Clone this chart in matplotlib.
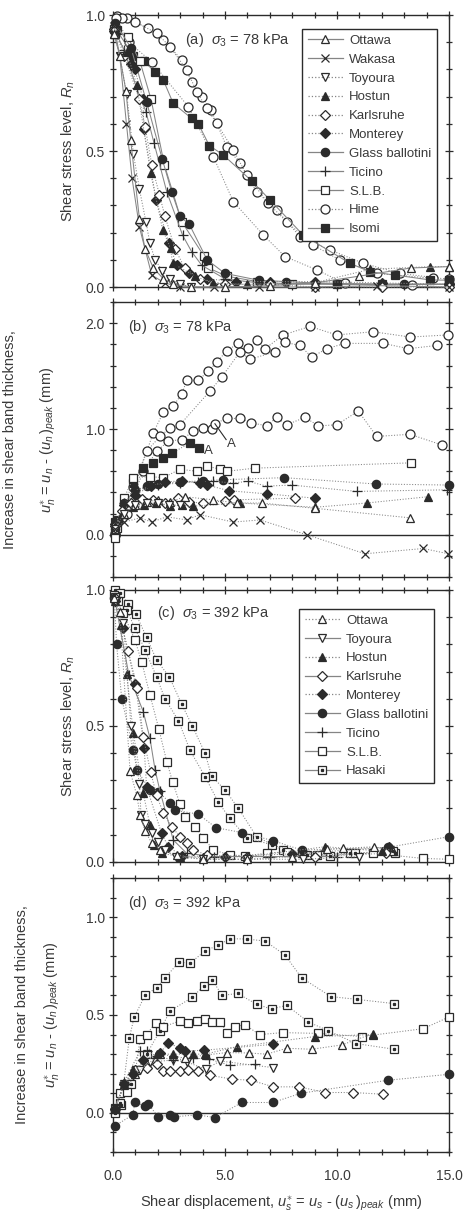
import matplotlib
matplotlib.use('Agg')
import matplotlib.pyplot as plt
from matplotlib.ticker import MultipleLocator, FixedLocator
from matplotlib.lines import Line2D
from matplotlib.legend_handler import HandlerTuple

# ---------------- Panel (a): sigma3 = 78 kPa, shear stress level ----------------
a_ottawa_x = [0.05, 0.3, 0.58, 0.79, 1.18, 1.43, 1.8, 2.25, 2.7, 3.5, 5.0, 7.0, 9.0, 11.0, 13.3, 15.0]
a_ottawa_y = [0.93, 0.85, 0.72, 0.54, 0.25, 0.14, 0.07, 0.03, 0.01, 0.0, 0.0, 0.005, 0.015, 0.04, 0.07, 0.075]
a_wakasa_x = [0.05, 0.3, 0.6, 0.85, 1.18, 1.73, 2.3, 3.0, 4.5, 6.5, 9.0, 11.8, 15.0]
a_wakasa_y = [0.96, 0.85, 0.6, 0.4, 0.22, 0.044, 0.015, 0.0, 0.0, 0.0, 0.0, 0.005, 0.0]
a_toyoura_x = [0.05, 0.3, 0.61, 0.91, 1.18, 1.47, 1.65, 1.88, 2.2, 2.54, 2.99, 3.5]
a_toyoura_y = [0.94, 0.85, 0.71, 0.49, 0.36, 0.24, 0.16, 0.10, 0.06, 0.03, 0.01, 0.0]
a_hostun_x = [0.05, 0.61, 1.06, 1.68, 2.22, 2.57, 2.66, 3.66, 4.48, 6.0, 9.02, 11.47, 14.15, 15.0]
a_hostun_y = [0.93, 0.865, 0.743, 0.418, 0.21, 0.142, 0.087, 0.04, 0.013, 0.01, 0.016, 0.065, 0.075, 0.075]
a_karlsruhe_x = [0.05, 0.5, 1.18, 1.43, 1.73, 2.07, 2.32, 2.77, 3.2, 3.88, 5.0, 7.0, 9.0, 12.0, 15.0]
a_karlsruhe_y = [0.95, 0.85, 0.69, 0.59, 0.45, 0.34, 0.26, 0.14, 0.07, 0.03, 0.01, 0.01, 0.0, 0.0, 0.0]
a_monterey_x = [0.05, 0.82, 0.97, 1.35, 1.37, 1.93, 2.5, 2.85, 3.4, 4.2, 5.5, 7.0, 9.0, 12.0, 15.0]
a_monterey_y = [0.94, 0.82, 0.80, 0.69, 0.58, 0.32, 0.16, 0.08, 0.05, 0.03, 0.02, 0.02, 0.02, 0.015, 0.01]
a_glass_x = [0.1, 0.8, 1.5, 2.2, 2.62, 2.99, 3.41, 4.2, 5.0, 6.5, 7.72, 10.0, 13.0, 15.0]
a_glass_y = [0.97, 0.88, 0.68, 0.47, 0.35, 0.26, 0.23, 0.1, 0.05, 0.025, 0.02, 0.01, 0.01, 0.01]
a_ticino_x = [0.05, 0.5, 1.06, 1.47, 1.83, 2.4, 3.11, 3.51, 3.96, 5.0, 7.0, 9.0, 12.0, 15.0]
a_ticino_y = [0.95, 0.87, 0.73, 0.645, 0.53, 0.35, 0.19, 0.13, 0.08, 0.03, 0.01, 0.015, 0.01, 0.01]
a_slb_x = [0.05, 0.65, 1.2, 1.7, 2.29, 3.07, 4.06, 4.26, 5.07, 6.44, 8.0, 10.0, 12.0, 15.0]
a_slb_y = [0.95, 0.92, 0.83, 0.69, 0.45, 0.24, 0.114, 0.07, 0.04, 0.02, 0.01, 0.01, 0.01, 0.01]
a_hime1_x = [0.2, 0.61, 1.58, 2.25, 3.07, 3.51, 3.96, 4.38, 5.07, 5.67, 6.41, 7.31, 8.35, 9.69, 11.18, 12.81, 15.0]
a_hime1_y = [0.995, 0.988, 0.951, 0.908, 0.835, 0.755, 0.70, 0.651, 0.516, 0.455, 0.35, 0.283, 0.185, 0.136, 0.087, 0.05, 0.028]
a_hime2_x = [0.4, 0.98, 1.95, 2.54, 3.29, 3.74, 4.18, 4.63, 5.37, 5.97, 6.93, 7.75, 8.94, 10.13, 11.77, 14.3]
a_hime2_y = [0.99, 0.975, 0.933, 0.884, 0.798, 0.718, 0.657, 0.602, 0.504, 0.412, 0.308, 0.24, 0.154, 0.099, 0.05, 0.032]
a_hime3_x = [0.15, 0.7, 1.73, 3.36, 4.48, 5.37, 6.71, 7.68, 9.09, 10.36, 13.33, 15.0]
a_hime3_y = [0.99, 0.9, 0.828, 0.663, 0.479, 0.314, 0.191, 0.112, 0.063, 0.013, 0.007, 0.01]
a_isomi_x = [0.1, 0.16, 0.91, 1.38, 1.88, 2.25, 2.69, 3.51, 3.81, 4.3, 4.93, 6.19, 7.01, 8.5, 10.58, 11.47, 12.59, 14.15, 15.0]
a_isomi_y = [0.93, 0.945, 0.85, 0.83, 0.79, 0.76, 0.675, 0.62, 0.60, 0.52, 0.485, 0.39, 0.32, 0.19, 0.087, 0.056, 0.044, 0.026, 0.025]

# ---------------- Panel (b): sigma3 = 78 kPa, increase in shear band thickness ----------------
b_hime1_x = [0.09, 0.61, 1.8, 2.25, 2.69, 3.07, 3.29, 3.81, 4.26, 4.63, 5.07, 5.6, 6.04, 6.41, 6.79, 7.6, 8.79, 9.99, 11.62, 13.26, 14.97]
b_hime1_y = [0.0, 0.25, 0.965, 1.16, 1.22, 1.33, 1.46, 1.46, 1.55, 1.63, 1.74, 1.81, 1.77, 1.84, 1.76, 1.89, 1.97, 1.89, 1.92, 1.87, 1.89]
b_hime2_x = [0.1, 0.9, 1.5, 2.1, 2.54, 2.99, 4.33, 4.85, 5.67, 6.12, 7.23, 7.68, 8.35, 8.87, 9.54, 10.36, 12.07, 13.18, 14.45]
b_hime2_y = [0.02, 0.45, 0.79, 0.93, 1.01, 1.04, 1.36, 1.49, 1.73, 1.66, 1.73, 1.82, 1.79, 1.68, 1.76, 1.81, 1.81, 1.76, 1.79]
b_hime3_x = [0.09, 0.61, 1.35, 1.95, 2.47, 3.07, 3.59, 4.03, 4.4, 4.55, 5.07, 5.67, 6.15, 6.86, 7.31, 7.75, 8.57, 9.17, 9.99, 10.95, 11.77, 13.26, 14.67]
b_hime3_y = [0.0, 0.2, 0.6, 0.79, 0.886, 0.90, 0.98, 1.01, 1.0, 1.05, 1.10, 1.10, 1.06, 1.03, 1.11, 1.04, 1.11, 1.03, 1.04, 1.17, 0.93, 0.95, 0.85]
b_isomi_x = [0.09, 0.24, 0.88, 1.33, 1.8, 2.25, 2.62, 3.44, 3.85]
b_isomi_y = [0.12, 0.14, 0.49, 0.63, 0.68, 0.73, 0.77, 0.87, 0.82]
b_slb_x = [0.09, 0.16, 0.5, 0.91, 1.65, 2.25, 2.99, 3.74, 4.18, 4.78, 5.07, 6.34, 13.3]
b_slb_y = [-0.03, 0.06, 0.35, 0.54, 0.55, 0.54, 0.62, 0.60, 0.65, 0.62, 0.60, 0.63, 0.68]
b_glass_x = [0.1, 0.5, 1.0, 1.5, 2.0, 3.0, 4.0, 4.9, 7.63, 11.74, 15.0]
b_glass_y = [0.05, 0.3, 0.42, 0.46, 0.48, 0.5, 0.51, 0.52, 0.54, 0.48, 0.47]
b_ticino_x = [0.1, 0.5, 1.0, 2.0, 3.0, 3.8, 4.48, 5.37, 6.04, 6.86, 7.98, 10.88, 14.9]
b_ticino_y = [0.1, 0.3, 0.42, 0.47, 0.49, 0.5, 0.505, 0.49, 0.505, 0.46, 0.47, 0.41, 0.425]
b_monterey_x = [0.1, 0.5, 1.0, 1.7, 2.3, 3.1, 3.9, 4.2, 5.19, 6.86, 9.02]
b_monterey_y = [0.1, 0.28, 0.38, 0.46, 0.5, 0.51, 0.49, 0.47, 0.416, 0.387, 0.346]
b_karlsruhe_x = [0.1, 0.4, 0.8, 1.3, 1.8, 2.3, 2.9, 3.4, 4.0, 5.0, 5.4, 8.12]
b_karlsruhe_y = [0.08, 0.22, 0.3, 0.34, 0.33, 0.3, 0.35, 0.31, 0.3, 0.32, 0.33, 0.346]
b_hostun_x = [0.1, 0.4, 0.9, 1.4, 1.9, 2.54, 3.07, 3.56, 5.67, 9.02, 11.32, 14.08]
b_hostun_y = [0.08, 0.2, 0.26, 0.28, 0.3, 0.27, 0.28, 0.27, 0.30, 0.26, 0.30, 0.36]
b_ottawa_x = [0.1, 0.5, 1.0, 1.5, 2.0, 2.54, 3.2, 4.48, 5.52, 6.64, 9.02, 13.26]
b_ottawa_y = [0.05, 0.2, 0.28, 0.31, 0.33, 0.31, 0.36, 0.33, 0.30, 0.30, 0.25, 0.16]
b_wakasa_x = [0.09, 0.5, 1.21, 1.73, 2.4, 3.29, 3.88, 5.37, 6.56, 8.65, 11.25, 13.85, 14.97]
b_wakasa_y = [0.05, 0.12, 0.16, 0.12, 0.17, 0.14, 0.19, 0.12, 0.14, 0.0, -0.18, -0.13, -0.18]
b_toyoura_x = [0.1, 0.5, 1.0, 1.5, 2.0, 2.5, 3.0]
b_toyoura_y = [0.05, 0.2, 0.28, 0.3, 0.3, 0.28, 0.28]

# ---------------- Panel (c): sigma3 = 392 kPa, shear stress level ----------------
c_hasaki1_x = [0.1, 0.31, 0.68, 1.03, 1.5, 1.95, 2.51, 3.07, 3.54, 4.11, 4.4, 5.0, 5.6, 6.41, 7.6, 8.64, 10.58, 12.59]
c_hasaki1_y = [1.0, 0.988, 0.95, 0.91, 0.826, 0.742, 0.681, 0.58, 0.50, 0.40, 0.316, 0.265, 0.197, 0.093, 0.044, 0.026, 0.032, 0.034]
c_hasaki2_x = [0.05, 0.24, 0.61, 0.98, 1.43, 1.95, 2.32, 2.92, 3.44, 4.11, 4.7, 5.22, 5.97, 7.08, 8.42, 9.69, 10.8, 12.51]
c_hasaki2_y = [0.98, 0.96, 0.926, 0.86, 0.78, 0.68, 0.60, 0.52, 0.41, 0.314, 0.22, 0.16, 0.09, 0.063, 0.032, 0.022, 0.032, 0.042]
c_slb_x = [0.09, 0.46, 0.98, 1.28, 1.65, 2.05, 2.4, 2.66, 2.99, 3.23, 3.66, 4.03, 4.48, 5.22, 5.89, 6.86, 7.75, 9.09, 11.62, 13.85, 15.0]
c_slb_y = [0.975, 0.914, 0.816, 0.736, 0.614, 0.488, 0.369, 0.295, 0.213, 0.167, 0.13, 0.09, 0.044, 0.026, 0.023, 0.032, 0.038, 0.026, 0.032, 0.013, 0.01]
c_glass_x = [0.06, 0.16, 0.39, 0.91, 1.06, 1.65, 2.02, 2.54, 2.77, 3.81, 4.6, 5.77, 7.16, 8.42, 12.29, 15.0]
c_glass_y = [0.97, 0.80, 0.60, 0.41, 0.34, 0.265, 0.259, 0.218, 0.19, 0.176, 0.126, 0.108, 0.078, 0.044, 0.054, 0.093]
c_ottawa_x = [0.05, 0.3, 0.76, 1.06, 1.21, 1.43, 1.73, 2.1, 2.86, 4.0, 6.0, 8.0, 9.54, 10.25, 11.65, 12.51]
c_ottawa_y = [0.97, 0.92, 0.335, 0.246, 0.173, 0.115, 0.069, 0.044, 0.026, 0.01, 0.01, 0.02, 0.047, 0.05, 0.056, 0.042]
c_toyoura_x = [0.1, 0.46, 0.8, 1.18, 1.25, 1.43, 1.73, 2.0, 2.3, 2.8, 4.0, 6.0, 8.5, 11.0]
c_toyoura_y = [0.96, 0.88, 0.5, 0.286, 0.173, 0.14, 0.105, 0.075, 0.044, 0.02, 0.01, 0.01, 0.01, 0.02]
c_hostun_x = [0.1, 0.36, 0.61, 0.91, 1.35, 1.65, 1.82, 2.17, 2.99, 4.03, 6.0, 9.47, 12.0]
c_hostun_y = [0.96, 0.87, 0.69, 0.473, 0.253, 0.136, 0.063, 0.032, 0.02, 0.017, 0.02, 0.056, 0.04]
c_karlsruhe_x = [0.1, 0.68, 1.09, 1.35, 1.68, 1.95, 2.25, 2.62, 2.99, 3.29, 3.59, 4.18, 6.0, 9.0, 12.2]
c_karlsruhe_y = [0.97, 0.776, 0.638, 0.46, 0.33, 0.245, 0.179, 0.13, 0.093, 0.069, 0.044, 0.026, 0.02, 0.02, 0.032]
c_monterey_x = [0.1, 0.43, 1.0, 1.39, 1.5, 2.17, 2.47, 3.07, 5.0, 8.0, 12.3]
c_monterey_y = [0.96, 0.86, 0.653, 0.42, 0.277, 0.105, 0.056, 0.022, 0.02, 0.03, 0.054]
c_ticino_x = [0.09, 0.71, 1.35, 1.65, 1.88, 2.1, 2.69, 3.29, 4.5, 7.0, 10.0]
c_ticino_y = [0.96, 0.687, 0.553, 0.455, 0.338, 0.26, 0.081, 0.032, 0.02, 0.02, 0.02]

# ---------------- Panel (d): sigma3 = 392 kPa, increase in shear band thickness ----------------
d_hasaki1_x = [0.09, 0.36, 0.73, 0.95, 1.43, 1.95, 2.32, 2.95, 3.44, 4.11, 4.7, 5.22, 5.97, 6.79, 7.68, 8.42, 9.73, 10.88, 12.56]
d_hasaki1_y = [0.01, 0.04, 0.384, 0.49, 0.60, 0.64, 0.69, 0.77, 0.765, 0.827, 0.857, 0.89, 0.888, 0.878, 0.806, 0.69, 0.594, 0.58, 0.558]
d_hasaki2_x = [0.09, 0.3, 0.8, 1.5, 2.1, 2.54, 3.54, 4.06, 4.43, 4.87, 5.56, 6.41, 7.08, 7.75, 8.72, 9.61, 10.85, 12.56]
d_hasaki2_y = [0.0, 0.05, 0.15, 0.3, 0.42, 0.52, 0.59, 0.65, 0.68, 0.60, 0.61, 0.555, 0.53, 0.55, 0.464, 0.42, 0.354, 0.325]
d_slb_x = [0.09, 0.31, 0.61, 1.01, 1.21, 1.5, 1.9, 2.25, 2.99, 3.36, 3.74, 4.12, 4.42, 4.78, 5.1, 5.45, 5.89, 6.54, 7.57, 9.17, 11.1, 13.85, 15.0]
d_slb_y = [0.027, 0.104, 0.107, 0.22, 0.376, 0.40, 0.46, 0.44, 0.47, 0.46, 0.47, 0.48, 0.466, 0.466, 0.41, 0.44, 0.45, 0.40, 0.41, 0.406, 0.39, 0.43, 0.49]
d_glass_x = [0.09, 0.88, 0.98, 1.43, 1.58, 2.02, 2.54, 2.72, 3.77, 4.55, 5.75, 7.13, 8.38, 12.29, 15.0]
d_glass_y = [-0.066, -0.01, 0.053, 0.036, 0.044, -0.02, -0.01, -0.02, -0.01, -0.024, 0.053, 0.053, 0.10, 0.167, 0.197]
d_karlsruhe_x = [0.09, 0.5, 0.98, 1.5, 1.95, 2.25, 2.54, 2.99, 3.36, 3.81, 4.33, 5.33, 6.15, 7.16, 8.32, 9.47, 10.73, 12.07]
d_karlsruhe_y = [0.02, 0.15, 0.22, 0.23, 0.248, 0.214, 0.214, 0.214, 0.218, 0.214, 0.192, 0.172, 0.167, 0.133, 0.133, 0.104, 0.104, 0.095]
d_monterey_x = [0.09, 0.5, 0.91, 1.35, 2.1, 2.47, 2.99, 3.21, 4.06, 7.13]
d_monterey_y = [0.02, 0.15, 0.2, 0.27, 0.308, 0.355, 0.333, 0.316, 0.32, 0.35]
d_hostun_x = [0.09, 0.5, 0.9, 1.95, 2.69, 3.59, 4.11, 5.52, 9.02, 11.62]
d_hostun_y = [0.02, 0.15, 0.22, 0.30, 0.30, 0.30, 0.30, 0.338, 0.39, 0.40]
d_ottawa_x = [0.09, 0.5, 1.0, 2.1, 3.21, 4.15, 5.07, 6.05, 6.86, 7.75, 8.87, 10.21, 11.6]
d_ottawa_y = [0.02, 0.14, 0.2, 0.3, 0.28, 0.296, 0.308, 0.306, 0.30, 0.33, 0.325, 0.347, 0.405]
d_ticino_x = [0.09, 0.5, 1.21, 1.5, 1.95, 2.69, 3.59, 4.3, 5.22, 6.34]
d_ticino_y = [0.02, 0.16, 0.316, 0.316, 0.29, 0.27, 0.28, 0.274, 0.243, 0.248]
d_toyoura_x = [0.09, 0.5, 1.2, 1.65, 2.69, 3.29, 4.14, 4.78, 7.16]
d_toyoura_y = [0.02, 0.15, 0.22, 0.26, 0.27, 0.26, 0.223, 0.265, 0.231]

legend_a = ['Ottawa', 'Wakasa', 'Toyoura', 'Hostun', 'Karlsruhe', 'Monterey',
            'Glass ballotini', 'Ticino', 'S.L.B.', 'Hime', 'Isomi']
legend_c = ['Ottawa', 'Toyoura', 'Hostun', 'Karlsruhe', 'Monterey',
            'Glass ballotini', 'Ticino', 'S.L.B.', 'Hasaki']
x_ticks = [0.0, 5.0, 10.0, 15.0]
x_ticklabels = ['0.0', '5.0', '10.0', '15.0']

# ---------------- styling ----------------
plt.rcParams['font.family'] = ['Liberation Sans', 'DejaVu Sans']
plt.rcParams['mathtext.fontset'] = 'custom'
plt.rcParams['mathtext.rm'] = 'Liberation Sans'
plt.rcParams['mathtext.it'] = 'Liberation Sans:italic'
plt.rcParams['mathtext.sf'] = 'Liberation Sans'

INK = '#2b2b2b'
LINE = '#858585'
TXT = '#3a3a3a'

MK = {
    'Ottawa': dict(marker='^', mfc='white', ms=6.3),
    'Wakasa': dict(marker='x', mfc='none', ms=5.5),
    'Toyoura': dict(marker='v', mfc='white', ms=6.3),
    'Hostun': dict(marker='^', mfc=INK, ms=6.3),
    'Karlsruhe': dict(marker='D', mfc='white', ms=4.7),
    'Monterey': dict(marker='D', mfc=INK, ms=4.7),
    'Glass ballotini': dict(marker='o', mfc=INK, ms=6.0),
    'Ticino': dict(marker='+', mfc='none', ms=7.0),
    'S.L.B.': dict(marker='s', mfc='white', ms=5.8),
    'Hime': dict(marker='o', mfc='white', ms=6.5),
    'Isomi': dict(marker='s', mfc=INK, ms=5.8),
    'Hasaki': dict(marker='s', mfc='white', ms=5.8),
}
LS_A = {'Ottawa': '-', 'Wakasa': '-', 'Toyoura': ':', 'Hostun': ':', 'Karlsruhe': ':',
        'Monterey': ':', 'Glass ballotini': '-', 'Ticino': '-', 'S.L.B.': '-',
        'Hime': ':', 'Isomi': '-'}
LS_C = {'Ottawa': ':', 'Toyoura': '-', 'Hostun': ':', 'Karlsruhe': '-', 'Monterey': ':',
        'Glass ballotini': '-', 'Ticino': '-', 'S.L.B.': '-', 'Hasaki': '-'}


def draw(ax, x, y, name, ls):
    st = MK[name]
    ax.plot(x, y, ls=ls, color=LINE, lw=0.75, marker=st['marker'], ms=st['ms'],
            mfc=st['mfc'], mec=INK, mew=0.9, clip_on=False, zorder=3)
    if name == 'Hasaki':
        ax.plot(x, y, ls='none', marker='s', ms=1.4, mfc=INK, mec=INK, clip_on=False, zorder=4)


def handle(name, ls):
    st = MK[name]
    h = Line2D([], [], ls=ls, color=LINE, lw=0.9, marker=st['marker'], ms=st['ms'],
               mfc=st['mfc'], mec=INK, mew=0.9)
    if name == 'Hasaki':
        d = Line2D([], [], ls='none', marker='s', ms=1.4, mfc=INK, mec=INK)
        return (h, d)
    return h


def style_axes(ax, ylim, ymin, yticks, xlabels):
    ax.set_xlim(0, 15)
    ax.set_ylim(*ylim)
    ax.xaxis.set_major_locator(FixedLocator(x_ticks))
    ax.xaxis.set_minor_locator(MultipleLocator(1))
    ax.yaxis.set_major_locator(FixedLocator(yticks))
    ax.yaxis.set_minor_locator(MultipleLocator(ymin))
    ax.tick_params(which='both', direction='inout', top=True, right=True, colors=INK,
                   labelcolor=TXT, labelsize=10, width=0.9)
    ax.tick_params(which='major', length=6, pad=3)
    ax.tick_params(which='minor', length=4)
    ax.set_yticklabels(['%.1f' % t for t in yticks])
    if xlabels:
        ax.set_xticklabels(x_ticklabels)
        ax.tick_params(axis='x', pad=9)
    else:
        ax.set_xticklabels([])
    for s in ax.spines.values():
        s.set_color(INK)
        s.set_linewidth(1.0)


def add_legend(ax, names, ls_map, anchor):
    leg = ax.legend([handle(n, ls_map[n]) for n in names], names, loc='upper right',
                    bbox_to_anchor=anchor, fontsize=9.5, labelspacing=0.5,
                    handlelength=2.6, handletextpad=0.5, borderpad=0.45, fancybox=False,
                    framealpha=1, edgecolor=INK,
                    handler_map={tuple: HandlerTuple(ndivide=1)})
    leg.get_frame().set_linewidth(1.0)
    leg.set_zorder(10)
    for t in leg.get_texts():
        t.set_color(TXT)


fig = plt.figure(figsize=(4.72, 12.11), dpi=100)
L, W = 0.2394, 0.7119
ax_a = fig.add_axes([L, 0.763, W, 0.2246])
ax_b = fig.add_axes([L, 0.5235, W, 0.227])
ax_c = fig.add_axes([L, 0.2882, W, 0.2246])
ax_d = fig.add_axes([L, 0.0487, W, 0.2263])

# Panel (a)
draw(ax_a, a_hime1_x, a_hime1_y, 'Hime', LS_A['Hime'])
draw(ax_a, a_hime2_x, a_hime2_y, 'Hime', LS_A['Hime'])
draw(ax_a, a_hime3_x, a_hime3_y, 'Hime', LS_A['Hime'])
draw(ax_a, a_isomi_x, a_isomi_y, 'Isomi', LS_A['Isomi'])
draw(ax_a, a_slb_x, a_slb_y, 'S.L.B.', LS_A['S.L.B.'])
draw(ax_a, a_ticino_x, a_ticino_y, 'Ticino', LS_A['Ticino'])
draw(ax_a, a_glass_x, a_glass_y, 'Glass ballotini', LS_A['Glass ballotini'])
draw(ax_a, a_monterey_x, a_monterey_y, 'Monterey', LS_A['Monterey'])
draw(ax_a, a_karlsruhe_x, a_karlsruhe_y, 'Karlsruhe', LS_A['Karlsruhe'])
draw(ax_a, a_hostun_x, a_hostun_y, 'Hostun', LS_A['Hostun'])
draw(ax_a, a_toyoura_x, a_toyoura_y, 'Toyoura', LS_A['Toyoura'])
draw(ax_a, a_wakasa_x, a_wakasa_y, 'Wakasa', LS_A['Wakasa'])
draw(ax_a, a_ottawa_x, a_ottawa_y, 'Ottawa', LS_A['Ottawa'])
style_axes(ax_a, (0, 1.0), 0.1, [0.0, 0.5, 1.0], False)
add_legend(ax_a, legend_a, LS_A, (0.985, 0.974))
ax_a.text(0.214, 0.908, r'(a)  $\sigma_3$ = 78 kPa', transform=ax_a.transAxes,
          fontsize=10.5, color=TXT, va='center', ha='left')
ax_a.set_ylabel(r'Shear stress level, $R_n$', fontsize=10.5, color=TXT, labelpad=6)

# Panel (b)
dot = ':'
draw(ax_b, b_hime1_x, b_hime1_y, 'Hime', dot)
draw(ax_b, b_hime2_x, b_hime2_y, 'Hime', dot)
draw(ax_b, b_hime3_x, b_hime3_y, 'Hime', dot)
draw(ax_b, b_isomi_x, b_isomi_y, 'Isomi', dot)
draw(ax_b, b_slb_x, b_slb_y, 'S.L.B.', dot)
draw(ax_b, b_glass_x, b_glass_y, 'Glass ballotini', dot)
draw(ax_b, b_ticino_x, b_ticino_y, 'Ticino', dot)
draw(ax_b, b_monterey_x, b_monterey_y, 'Monterey', dot)
draw(ax_b, b_karlsruhe_x, b_karlsruhe_y, 'Karlsruhe', dot)
draw(ax_b, b_hostun_x, b_hostun_y, 'Hostun', dot)
draw(ax_b, b_ottawa_x, b_ottawa_y, 'Ottawa', dot)
draw(ax_b, b_toyoura_x, b_toyoura_y, 'Toyoura', dot)
draw(ax_b, b_wakasa_x, b_wakasa_y, 'Wakasa', dot)
ax_b.axhline(0, color=INK, lw=1.0, zorder=2)
style_axes(ax_b, (-0.4, 2.2), 0.2, [0.0, 1.0, 2.0], False)
ax_b.plot([b_hime3_x[9], 5.05], [b_hime3_y[9], 0.90], color=INK, lw=0.8, zorder=5)
ax_b.text(5.1, 0.86, 'A', fontsize=9.5, color=TXT, va='center')
ax_b.text(4.05, 0.79, 'A', fontsize=9.5, color=TXT, va='center')
ax_b.text(0.045, 0.909, r'(b)  $\sigma_3$ = 78 kPa', transform=ax_b.transAxes,
          fontsize=10.5, color=TXT, va='center', ha='left')

# Panel (c)
draw(ax_c, c_hasaki1_x, c_hasaki1_y, 'Hasaki', ':')
draw(ax_c, c_hasaki2_x, c_hasaki2_y, 'Hasaki', ':')
draw(ax_c, c_slb_x, c_slb_y, 'S.L.B.', ':')
draw(ax_c, c_glass_x, c_glass_y, 'Glass ballotini', ':')
draw(ax_c, c_ticino_x, c_ticino_y, 'Ticino', LS_C['Ticino'])
draw(ax_c, c_monterey_x, c_monterey_y, 'Monterey', LS_C['Monterey'])
draw(ax_c, c_karlsruhe_x, c_karlsruhe_y, 'Karlsruhe', ':')
draw(ax_c, c_hostun_x, c_hostun_y, 'Hostun', LS_C['Hostun'])
draw(ax_c, c_toyoura_x, c_toyoura_y, 'Toyoura', ':')
draw(ax_c, c_ottawa_x, c_ottawa_y, 'Ottawa', LS_C['Ottawa'])
style_axes(ax_c, (0, 1.0), 0.1, [0.0, 0.5, 1.0], False)
add_legend(ax_c, legend_c, LS_C, (0.976, 0.956))
ax_c.text(0.131, 0.915, r'(c)  $\sigma_3$ = 392 kPa', transform=ax_c.transAxes,
          fontsize=10.5, color=TXT, va='center', ha='left')
ax_c.set_ylabel(r'Shear stress level, $R_n$', fontsize=10.5, color=TXT, labelpad=6)

# Panel (d)
draw(ax_d, d_hasaki1_x, d_hasaki1_y, 'Hasaki', dot)
draw(ax_d, d_hasaki2_x, d_hasaki2_y, 'Hasaki', dot)
draw(ax_d, d_slb_x, d_slb_y, 'S.L.B.', dot)
draw(ax_d, d_glass_x, d_glass_y, 'Glass ballotini', dot)
draw(ax_d, d_karlsruhe_x, d_karlsruhe_y, 'Karlsruhe', dot)
draw(ax_d, d_toyoura_x, d_toyoura_y, 'Toyoura', dot)
draw(ax_d, d_ticino_x, d_ticino_y, 'Ticino', dot)
draw(ax_d, d_ottawa_x, d_ottawa_y, 'Ottawa', dot)
draw(ax_d, d_hostun_x, d_hostun_y, 'Hostun', dot)
draw(ax_d, d_monterey_x, d_monterey_y, 'Monterey', dot)
ax_d.axhline(0, color=INK, lw=1.0, zorder=2)
style_axes(ax_d, (-0.2, 1.2), 0.1, [0.0, 0.5, 1.0], True)
ax_d.text(0.045, 0.909, r'(d)  $\sigma_3$ = 392 kPa', transform=ax_d.transAxes,
          fontsize=10.5, color=TXT, va='center', ha='left')
ax_d.set_xlabel(r'Shear displacement, $u_s^{\ast}$ = $u_s$ - $(u_s\,)_{peak}$ (mm)',
                fontsize=10.5, color=TXT, labelpad=8)

# two-line y labels for (b) and (d)
for ax, x1, x2 in [(ax_b, 10 / 472, 48 / 472), (ax_d, 22 / 472, 52 / 472)]:
    pos = ax.get_position()
    yc = pos.y0 + pos.height / 2
    fig.text(x1, yc, 'Increase in shear band thickness,', rotation=90, ha='center',
             va='center', fontsize=10.5, color=TXT)
    fig.text(x2, yc, r'$u_n^{\ast}$ = $u_n$ - $(u_n\,)_{peak}$ (mm)', rotation=90,
             ha='center', va='center', fontsize=10.5, color=TXT)

fig.savefig('out.png', dpi=100, facecolor='white')
